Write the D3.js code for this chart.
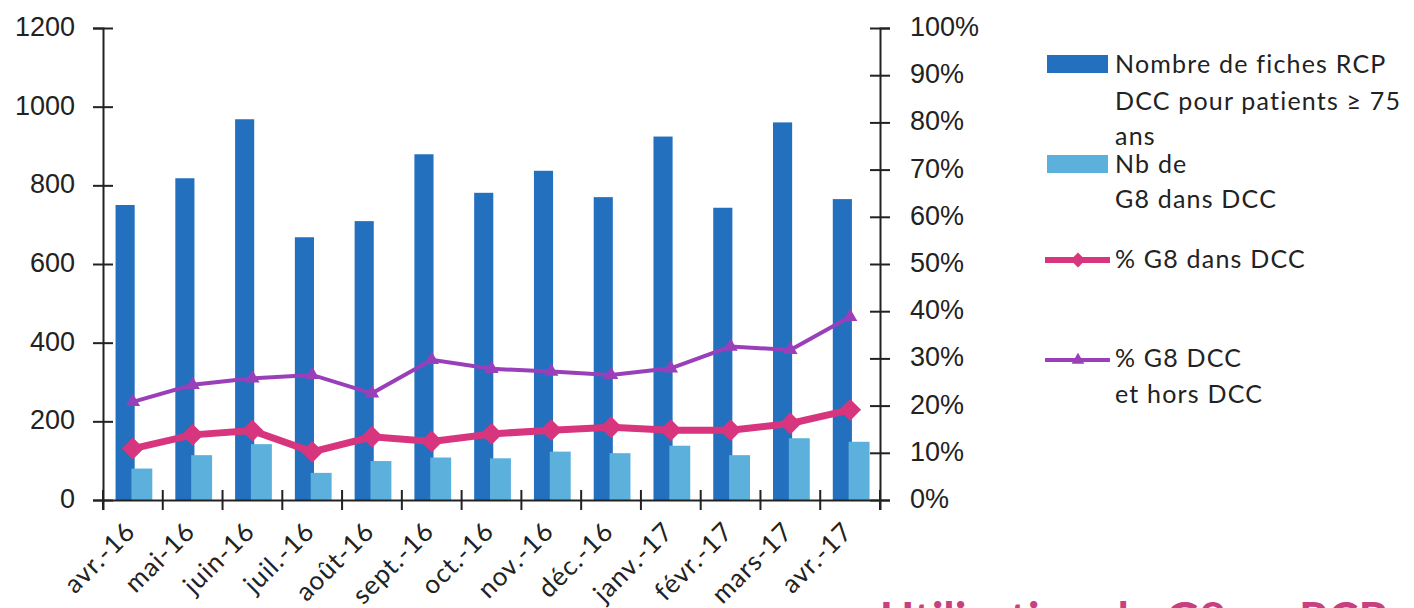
<!DOCTYPE html>
<html>
<head>
<meta charset="utf-8">
<script src="https://cdn.jsdelivr.net/npm/d3@7"></script>
<style>
  body { margin: 0; background: #fff; }
  svg { display: block; font-family: "Lato", "DejaVu Sans", sans-serif; }
</style>
</head>
<body>
<div id="chart"></div>
<script>
// data
const months = ["avr.-16", "mai-16", "juin-16", "juil.-16", "août-16", "sept.-16", "oct.-16",
  "nov.-16", "déc.-16", "janv.-17", "févr.-17", "mars-17", "avr.-17"];
const fiches = [750, 818, 968, 668, 709, 879, 781, 837, 770, 924, 743, 960, 765];
const nbG8 = [80, 114, 142, 69, 99, 108, 106, 123, 119, 138, 114, 157, 148];
const pctG8Dcc = [10.9, 13.8, 14.7, 10.2, 13.4, 12.4, 14.0, 14.8, 15.4, 14.8, 14.8, 16.2, 19.1];
const pctG8All = [20.8, 24.4, 25.8, 26.5, 22.6, 29.7, 27.8, 27.2, 26.5, 27.9, 32.5, 31.8, 38.8];
const leftTicks = [0, 200, 400, 600, 800, 1000, 1200];
const rightTicks = [0, 10, 20, 30, 40, 50, 60, 70, 80, 90, 100];

const width = 1414, height = 608;
const plotL = 103, plotR = 880, plotT = 28, plotB = 500;

const dark = "#2370bf", light = "#5cb0dc", pink = "#d8357f", purple = "#9a3fba";

const svg = d3.select("#chart").append("svg")
  .attr("width", width)
  .attr("height", height);

const x = d3.scaleBand().domain(months).range([plotL, plotR]);
const bw = x.bandwidth();
const yL = d3.scaleLinear().domain([0, 1200]).range([plotB, plotT]);
const yR = d3.scaleLinear().domain([0, 100]).range([plotB, plotT]);
const cx = d => x(d) + bw / 2;

// bars
svg.selectAll(".bar1")
  .data(months)
  .enter().append("rect")
  .attr("x", (d, i) => x(d) + bw * 0.21)
  .attr("width", bw * 0.32)
  .attr("y", (d, i) => yL(fiches[i]))
  .attr("height", (d, i) => plotB - yL(fiches[i]))
  .attr("fill", dark);

svg.selectAll(".bar2")
  .data(months)
  .enter().append("rect")
  .attr("x", (d, i) => x(d) + bw * 0.475)
  .attr("width", bw * 0.35)
  .attr("y", (d, i) => yL(nbG8[i]))
  .attr("height", (d, i) => plotB - yL(nbG8[i]))
  .attr("fill", light);

// axes
const axisColor = "#222";
const gl = svg.append("g").attr("transform", `translate(${plotL},0)`)
  .call(d3.axisLeft(yL).tickValues(leftTicks).tickSize(10).tickPadding(18).tickFormat(d => d));
const gr = svg.append("g").attr("transform", `translate(${plotR},0)`)
  .call(d3.axisRight(yR).tickValues(rightTicks).tickSize(10).tickPadding(20).tickFormat(d => d + "%"));
const gx = svg.append("g").attr("transform", `translate(0,${plotB})`)
  .call(d3.axisBottom(x).tickSize(10).tickFormat(""));

[gl, gr, gx].forEach(g => {
  g.select(".domain").attr("stroke", axisColor).attr("stroke-width", 2);
  g.selectAll(".tick line").attr("stroke", axisColor).attr("stroke-width", 2);
  g.selectAll("text").attr("fill", "#222").style("font-size", "27px").attr("dy", "0.28em");
});
// ticks cross the axes
gl.selectAll(".tick line").attr("x1", 10);
gr.selectAll(".tick line").attr("x1", -10);
// category ticks at band edges
gx.selectAll(".tick").remove();
const edges = months.map(d => x(d)).concat([plotR]);
gx.selectAll(".edge").data(edges).enter().append("line")
  .attr("x1", d => d).attr("x2", d => d)
  .attr("y1", -10).attr("y2", 10)
  .attr("stroke", axisColor).attr("stroke-width", 2);

// month labels
svg.selectAll(".mlab")
  .data(months)
  .enter().append("text")
  .attr("transform", d => `translate(${cx(d) + 4},${plotB + 33}) rotate(-45)`)
  .attr("text-anchor", "end")
  .style("font-size", "26px")
  .style("letter-spacing", "1px")
  .attr("fill", "#222")
  .text(d => d);

// lines
const linePts = (vals) => d3.line().x((d, i) => cx(months[i])).y(d => yR(d))(vals);

svg.append("path").attr("d", linePts(pctG8All))
  .attr("fill", "none").attr("stroke", purple).attr("stroke-width", 4);
svg.selectAll(".tri").data(pctG8All).enter().append("path")
  .attr("d", d3.symbol().type(d3.symbolTriangle).size(90))
  .attr("transform", (d, i) => `translate(${cx(months[i])},${yR(d)})`)
  .attr("fill", purple);

svg.append("path").attr("d", linePts(pctG8Dcc))
  .attr("fill", "none").attr("stroke", pink).attr("stroke-width", 7);
svg.selectAll(".dia").data(pctG8Dcc).enter().append("path")
  .attr("d", d3.symbol().type(d3.symbolSquare).size(240))
  .attr("transform", (d, i) => `translate(${cx(months[i])},${yR(d)}) rotate(45)`)
  .attr("fill", pink);

// legend
const lg = svg.append("g").style("font-size", "25px").style("letter-spacing", "1.2px").attr("fill", "#222");
lg.append("rect").attr("x", 1047).attr("y", 55).attr("width", 61).attr("height", 18).attr("fill", dark);
lg.append("rect").attr("x", 1047).attr("y", 155).attr("width", 61).attr("height", 18).attr("fill", light);
lg.append("line").attr("x1", 1045).attr("x2", 1110).attr("y1", 260).attr("y2", 260)
  .attr("stroke", pink).attr("stroke-width", 6);
lg.append("path").attr("d", d3.symbol().type(d3.symbolSquare).size(110))
  .attr("transform", "translate(1078,260) rotate(45)").attr("fill", pink);
lg.append("line").attr("x1", 1045).attr("x2", 1110).attr("y1", 360).attr("y2", 360)
  .attr("stroke", purple).attr("stroke-width", 4);
lg.append("path").attr("d", d3.symbol().type(d3.symbolTriangle).size(70))
  .attr("transform", "translate(1078,360)").attr("fill", purple);

const legendLines = [
  ["Nombre de fiches RCP", 73], ["DCC pour patients ≥ 75", 110], ["ans", 145],
  ["Nb de", 173], ["G8 dans DCC", 208], ["% G8 dans DCC", 268],
  ["% G8 DCC", 367], ["et hors DCC", 403]
];
lg.selectAll("text").data(legendLines).enter().append("text")
  .attr("x", 1115).attr("y", d => d[1]).text(d => d[0]);

// title, cut by the bottom edge
svg.append("text")
  .attr("x", 880).attr("y", 635)
  .style("font-size", "46px").style("font-weight", "bold")
  .attr("fill", "#c8407f")
  .text("Utilisation du G8 en RCP");
</script>
</body>
</html>
